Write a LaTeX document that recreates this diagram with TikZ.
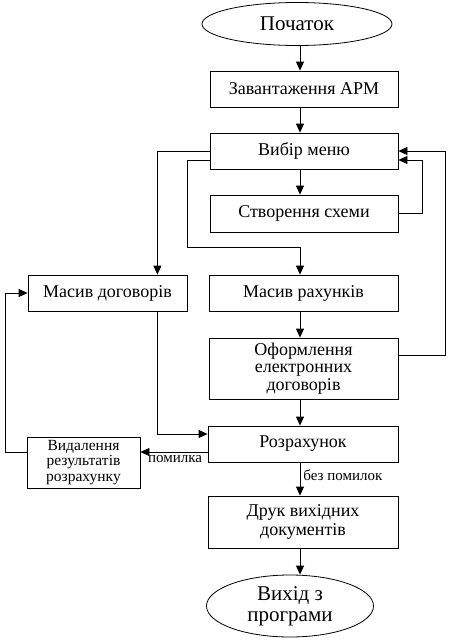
\documentclass[tikz,border=0pt]{standalone}
\usepackage{fontspec}
\setmainfont{Liberation Serif}
\usetikzlibrary{shapes.geometric,arrows.meta}
\begin{document}
\begin{tikzpicture}[x=1pt,y=-1pt,
  box/.style={draw,line width=0.8pt,rectangle,inner sep=0pt,align=center,font=\fontsize{18}{18}\selectfont},
  oval/.style={draw,line width=0.8pt,ellipse,inner sep=0pt,align=center,font=\fontsize{21}{21}\selectfont},
  arr/.style={line width=0.8pt,-{Triangle[length=9pt,width=8pt]}},
  lbl/.style={font=\fontsize{15}{15}\selectfont,inner sep=0pt}]
\useasboundingbox (0,0) rectangle (449,640);
\coordinate (axis) at (300,0);
\coordinate (k1) at (187,247);
\coordinate (rx1) at (422,0);
\coordinate (rx2) at (445,0);
\coordinate (lx) at (5,0);

\node[oval,minimum width=190pt,minimum height=43pt] (start) at (297,24) {Початок};
\node[box,minimum width=188pt,minimum height=36pt] (zav) at (304,89) {Завантаження АРМ};
\node[box,minimum width=188pt,minimum height=36pt] (menu) at (304,151) {Вибір меню};
\node[box,minimum width=188pt,minimum height=37pt] (scheme) at (304,213.5) {Створення схеми};
\node[box,minimum width=159pt,minimum height=36pt] (dog) at (107.5,293) {Масив договорів};
\node[box,minimum width=189pt,minimum height=36pt] (rah) at (303.5,293) {Масив рахунків};
\node[box,minimum width=189pt,minimum height=61pt,font=\fontsize{18}{17.5}\selectfont] (ofo) at (303.5,368.5) {Оформлення\\електронних\\договорів};
\node[box,minimum width=190pt,minimum height=36pt] (roz) at (303,444) {Розрахунок};
\node[box,minimum width=113pt,minimum height=51pt,font=\fontsize{15.5}{15.5}\selectfont] (del) at (83.5,462.5) {Видалення\\результатів\\розрахунку};
\node[box,minimum width=190pt,minimum height=52pt,font=\fontsize{18}{19}\selectfont] (druk) at (303,522) {Друк вихідних\\документів};
\node[oval,minimum width=167pt,minimum height=62pt] (exit) at (290,606) {Вихід з\\програми};

\draw[arr] (start.south -| axis) -- (zav.north -| axis);
\draw[arr] (zav.south -| axis) -- (menu.north -| axis);
\draw[arr] (menu.south -| axis) -- (scheme.north -| axis);
\draw[arr] (menu.west) -| ([xshift=-30pt]dog.north east);
\draw[arr] ([yshift=-9pt]menu.west) -| (k1) -| (rah.north -| axis);
\draw[arr] (scheme.east) -- (scheme.east -| rx1) |- ([yshift=-9pt]menu.east);
\draw[arr] ([yshift=13.5pt]ofo.east) -| (rx2 |- menu.east) -- (menu.east);
\draw[arr] (rah.south -| axis) -- (ofo.north -| axis);
\draw[arr] (ofo.south -| axis) -- (roz.north -| axis);
\draw[arr] ([xshift=-30pt]dog.south east) |- ([yshift=10pt]roz.west);
\draw[arr] ([yshift=-8pt]roz.west) -- node[lbl,below=3pt,pos=0.485]{помилка} ([yshift=-8pt]roz.west -| del.east);
\draw[arr] ([yshift=10.5pt]del.west) -| (lx |- dog.west) -- (dog.west);
\draw[arr] (roz.south -| axis) -- node[lbl,right=3pt,pos=0.4]{без помилок} (druk.north -| axis);
\draw[arr] (druk.south -| axis) -- (exit.north -| axis);
\end{tikzpicture}
\end{document}
